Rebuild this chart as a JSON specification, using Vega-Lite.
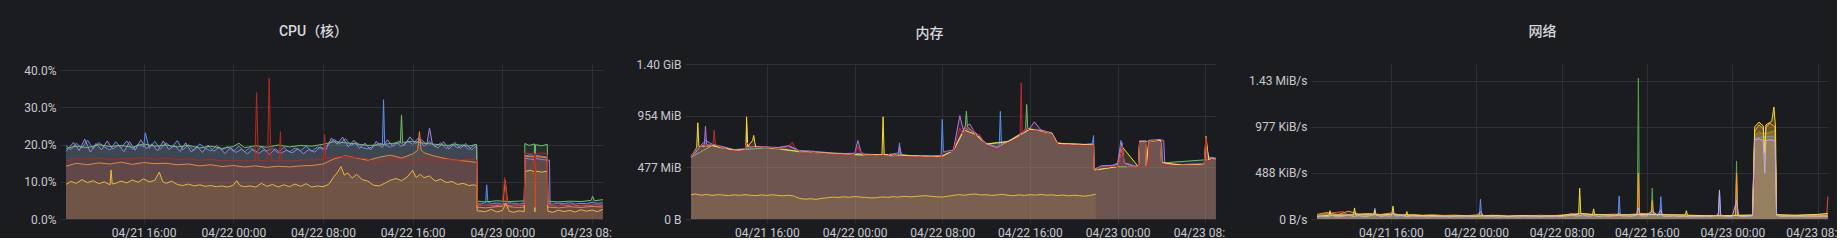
{
"$schema":"https://vega.github.io/schema/vega-lite/v6.json",
"background":"#1b1c20",
"padding":{"left":23,"top":25,"right":0,"bottom":0},
"bounds":"flush",
"spacing":88,
"resolve":{"scale":{"color":"independent"}},
"config":{
 "view":{"stroke":null},
 "axis":{"labelFont":"Roboto","labelFontSize":12,"labelColor":"#c8c9cf","gridColor":"#2f3035","tickColor":"#2f3035","domain":false,"title":null,"labelFlush":false},
 "title":{"font":"Roboto, Noto Sans CJK SC","fontSize":14,"fontWeight":500,"color":"#d8d9dd","anchor":"middle","frame":"group","baseline":"alphabetic","offset":25}
},
"datasets":{
"cpu":[
{"s":"b","h":9.08,"v":19.8},{"s":"b","h":9.5,"v":18.6},{"s":"b","h":10,"v":20.4},{"s":"b","h":10.5,"v":19.1},{"s":"b","h":11,"v":21.2},{"s":"b","h":11.5,"v":18.9},{"s":"b","h":12,"v":20.6},{"s":"b","h":12.5,"v":19.4},{"s":"b","h":13,"v":18.5},{"s":"b","h":13.5,"v":20.8},{"s":"b","h":14,"v":19.2},{"s":"b","h":14.5,"v":21.0},{"s":"b","h":15,"v":18.7},{"s":"b","h":15.5,"v":20.1},{"s":"b","h":16,"v":19.4},{"s":"b","h":16.15,"v":23.2},{"s":"b","h":16.5,"v":19.0},{"s":"b","h":17,"v":20.9},{"s":"b","h":17.5,"v":18.8},{"s":"b","h":18,"v":20.5},{"s":"b","h":18.5,"v":19.3},{"s":"b","h":19,"v":21.1},{"s":"b","h":19.5,"v":18.6},{"s":"b","h":20,"v":19.9},{"s":"b","h":20.5,"v":18.4},{"s":"b","h":21,"v":20.2},{"s":"b","h":21.5,"v":19.0},{"s":"b","h":22,"v":18.3},{"s":"b","h":22.5,"v":19.8},{"s":"b","h":23,"v":18.6},{"s":"b","h":23.5,"v":19.5},{"s":"b","h":24,"v":18.2},{"s":"b","h":24.5,"v":19.6},{"s":"b","h":25,"v":18.1},{"s":"b","h":25.5,"v":19.2},{"s":"b","h":26,"v":17.9},{"s":"b","h":26.5,"v":19.4},{"s":"b","h":27,"v":18.3},{"s":"b","h":27.5,"v":19.0},{"s":"b","h":28,"v":17.8},{"s":"b","h":28.5,"v":19.3},{"s":"b","h":29,"v":18.0},{"s":"b","h":29.5,"v":19.1},{"s":"b","h":30,"v":18.4},{"s":"b","h":30.5,"v":19.6},{"s":"b","h":31,"v":18.2},{"s":"b","h":31.5,"v":19.4},{"s":"b","h":32,"v":18.8},{"s":"b","h":32.5,"v":20.3},{"s":"b","h":33,"v":21.4},{"s":"b","h":33.5,"v":20.2},{"s":"b","h":34,"v":21.6},{"s":"b","h":34.5,"v":19.8},{"s":"b","h":35,"v":20.6},{"s":"b","h":35.5,"v":19.2},{"s":"b","h":36,"v":18.9},{"s":"b","h":36.5,"v":19.6},{"s":"b","h":37,"v":20.4},{"s":"b","h":37.3,"v":20.2},{"s":"b","h":37.4,"v":32.1},{"s":"b","h":37.5,"v":20.0},{"s":"b","h":38,"v":19.3},{"s":"b","h":38.5,"v":20.7},{"s":"b","h":39,"v":19.5},{"s":"b","h":39.5,"v":21.0},{"s":"b","h":40,"v":20.1},{"s":"b","h":40.5,"v":21.8},{"s":"b","h":41,"v":19.6},{"s":"b","h":41.5,"v":20.9},{"s":"b","h":42,"v":19.4},{"s":"b","h":42.5,"v":20.5},{"s":"b","h":43,"v":18.9},{"s":"b","h":43.5,"v":20.2},{"s":"b","h":44,"v":19.1},{"s":"b","h":44.5,"v":20.0},{"s":"b","h":45,"v":18.7},{"s":"b","h":45.5,"v":19.9},{"s":"b","h":45.7,"v":19.3},{"s":"b","h":45.75,"v":4.3},{"s":"b","h":46,"v":4.0},{"s":"b","h":46.5,"v":4.4},{"s":"b","h":46.6,"v":9.2},{"s":"b","h":46.7,"v":4.6},{"s":"b","h":47,"v":4.1},{"s":"b","h":47.5,"v":4.3},{"s":"b","h":48,"v":4.0},{"s":"b","h":48.5,"v":4.4},{"s":"b","h":49,"v":4.2},{"s":"b","h":49.5,"v":4.0},{"s":"b","h":49.95,"v":4.3},{"s":"b","h":50,"v":17.0},{"s":"b","h":50.5,"v":17.3},{"s":"b","h":50.85,"v":16.8},{"s":"b","h":50.9,"v":3.0},{"s":"b","h":50.95,"v":17.1},{"s":"b","h":51.5,"v":16.9},{"s":"b","h":52,"v":16.6},{"s":"b","h":52.05,"v":4.2},{"s":"b","h":52.5,"v":4.0},{"s":"b","h":53,"v":4.3},{"s":"b","h":53.5,"v":4.1},{"s":"b","h":54,"v":4.4},{"s":"b","h":54.5,"v":4.0},{"s":"b","h":55,"v":4.2},{"s":"b","h":55.5,"v":4.1},{"s":"b","h":56,"v":4.5},{"s":"b","h":56.5,"v":4.2},{"s":"b","h":56.96,"v":4.4},
{"s":"p","h":9.08,"v":18.2},{"s":"p","h":9.75,"v":20.6},{"s":"p","h":10.25,"v":18.4},{"s":"p","h":10.75,"v":21.5},{"s":"p","h":11.25,"v":18.0},{"s":"p","h":11.75,"v":20.3},{"s":"p","h":12.25,"v":18.6},{"s":"p","h":12.75,"v":21.0},{"s":"p","h":13.25,"v":18.8},{"s":"p","h":13.75,"v":19.9},{"s":"p","h":14.25,"v":18.1},{"s":"p","h":14.75,"v":20.8},{"s":"p","h":15.25,"v":18.5},{"s":"p","h":15.75,"v":21.3},{"s":"p","h":16.25,"v":18.9},{"s":"p","h":16.75,"v":20.2},{"s":"p","h":17.25,"v":18.3},{"s":"p","h":17.75,"v":21.0},{"s":"p","h":18.25,"v":18.7},{"s":"p","h":18.75,"v":19.8},{"s":"p","h":19.25,"v":18.2},{"s":"p","h":19.75,"v":20.5},{"s":"p","h":20.25,"v":18.0},{"s":"p","h":20.75,"v":19.6},{"s":"p","h":21.25,"v":17.9},{"s":"p","h":21.75,"v":19.9},{"s":"p","h":22.25,"v":18.2},{"s":"p","h":22.75,"v":19.3},{"s":"p","h":23.25,"v":17.6},{"s":"p","h":23.75,"v":19.2},{"s":"p","h":24.25,"v":17.9},{"s":"p","h":24.75,"v":18.8},{"s":"p","h":25.25,"v":17.5},{"s":"p","h":25.75,"v":18.9},{"s":"p","h":26.25,"v":17.6},{"s":"p","h":26.75,"v":18.6},{"s":"p","h":27.25,"v":17.4},{"s":"p","h":27.75,"v":18.9},{"s":"p","h":28.25,"v":17.7},{"s":"p","h":28.75,"v":18.5},{"s":"p","h":29.25,"v":17.8},{"s":"p","h":29.75,"v":18.9},{"s":"p","h":30.25,"v":17.6},{"s":"p","h":30.75,"v":18.7},{"s":"p","h":31.25,"v":18.0},{"s":"p","h":31.75,"v":19.4},{"s":"p","h":32.25,"v":18.6},{"s":"p","h":32.75,"v":21.8},{"s":"p","h":33.25,"v":20.1},{"s":"p","h":33.75,"v":22.0},{"s":"p","h":34.25,"v":19.4},{"s":"p","h":34.75,"v":21.2},{"s":"p","h":35.25,"v":19.0},{"s":"p","h":35.75,"v":20.4},{"s":"p","h":36.25,"v":18.6},{"s":"p","h":36.75,"v":20.9},{"s":"p","h":37.25,"v":19.2},{"s":"p","h":37.75,"v":21.3},{"s":"p","h":38.25,"v":19.5},{"s":"p","h":38.75,"v":21.0},{"s":"p","h":39.25,"v":19.8},{"s":"p","h":39.75,"v":22.1},{"s":"p","h":40.25,"v":20.3},{"s":"p","h":40.75,"v":21.4},{"s":"p","h":41.25,"v":20.0},{"s":"p","h":41.5,"v":24.5},{"s":"p","h":41.75,"v":20.2},{"s":"p","h":42.25,"v":19.1},{"s":"p","h":42.75,"v":20.8},{"s":"p","h":43.25,"v":18.8},{"s":"p","h":43.75,"v":20.6},{"s":"p","h":44.25,"v":19.0},{"s":"p","h":44.75,"v":20.3},{"s":"p","h":45.25,"v":18.6},{"s":"p","h":45.7,"v":19.7},{"s":"p","h":45.75,"v":3.9},{"s":"p","h":46.25,"v":3.6},{"s":"p","h":46.75,"v":3.8},{"s":"p","h":47.25,"v":3.5},{"s":"p","h":47.75,"v":3.7},{"s":"p","h":48.25,"v":3.9},{"s":"p","h":48.75,"v":3.6},{"s":"p","h":49.25,"v":3.8},{"s":"p","h":49.75,"v":3.6},{"s":"p","h":49.95,"v":3.7},{"s":"p","h":50,"v":16.4},{"s":"p","h":50.5,"v":16.1},{"s":"p","h":50.85,"v":16.0},{"s":"p","h":50.9,"v":2.8},{"s":"p","h":50.95,"v":16.3},{"s":"p","h":51.5,"v":16.0},{"s":"p","h":52.2,"v":15.8},{"s":"p","h":52.25,"v":3.7},{"s":"p","h":52.75,"v":3.5},{"s":"p","h":53.25,"v":3.8},{"s":"p","h":53.75,"v":3.6},{"s":"p","h":54.25,"v":3.9},{"s":"p","h":54.75,"v":3.5},{"s":"p","h":55.25,"v":3.7},{"s":"p","h":55.75,"v":3.6},{"s":"p","h":56.25,"v":3.9},{"s":"p","h":56.96,"v":3.7},
{"s":"g","h":9.08,"v":19.0},{"s":"g","h":10,"v":19.6},{"s":"g","h":11,"v":19.2},{"s":"g","h":12,"v":20.0},{"s":"g","h":13,"v":19.5},{"s":"g","h":14,"v":19.8},{"s":"g","h":15,"v":19.3},{"s":"g","h":16,"v":20.2},{"s":"g","h":17,"v":19.6},{"s":"g","h":18,"v":19.9},{"s":"g","h":19,"v":19.4},{"s":"g","h":20,"v":19.8},{"s":"g","h":21,"v":19.1},{"s":"g","h":22,"v":19.6},{"s":"g","h":23,"v":19.0},{"s":"g","h":24,"v":19.5},{"s":"g","h":24.5,"v":20.4},{"s":"g","h":25,"v":19.2},{"s":"g","h":26,"v":19.7},{"s":"g","h":27,"v":19.3},{"s":"g","h":28,"v":19.9},{"s":"g","h":29,"v":19.4},{"s":"g","h":30,"v":19.8},{"s":"g","h":31,"v":19.6},{"s":"g","h":32,"v":20.1},{"s":"g","h":33,"v":20.8},{"s":"g","h":34,"v":20.5},{"s":"g","h":35,"v":20.2},{"s":"g","h":36,"v":19.8},{"s":"g","h":37,"v":19.9},{"s":"g","h":38,"v":20.3},{"s":"g","h":38.9,"v":20.5},{"s":"g","h":39,"v":28.0},{"s":"g","h":39.1,"v":20.6},{"s":"g","h":40,"v":20.9},{"s":"g","h":41,"v":20.4},{"s":"g","h":42,"v":20.1},{"s":"g","h":43,"v":19.8},{"s":"g","h":44,"v":20.0},{"s":"g","h":45,"v":19.6},{"s":"g","h":45.7,"v":20.1},{"s":"g","h":45.75,"v":4.8},{"s":"g","h":46.5,"v":4.6},{"s":"g","h":47.5,"v":4.9},{"s":"g","h":48.5,"v":4.7},{"s":"g","h":49.5,"v":4.8},{"s":"g","h":49.95,"v":4.9},{"s":"g","h":50,"v":20.3},{"s":"g","h":50.4,"v":19.8},{"s":"g","h":50.85,"v":20.2},{"s":"g","h":50.9,"v":3.2},{"s":"g","h":50.95,"v":20.0},{"s":"g","h":51.5,"v":19.7},{"s":"g","h":52,"v":20.1},{"s":"g","h":52.05,"v":4.8},{"s":"g","h":53,"v":4.6},{"s":"g","h":54,"v":4.8},{"s":"g","h":55,"v":4.7},{"s":"g","h":55.9,"v":5.0},{"s":"g","h":56.05,"v":6.1},{"s":"g","h":56.2,"v":4.9},{"s":"g","h":56.96,"v":5.2},
{"s":"o","h":9.08,"v":14.2},{"s":"o","h":10,"v":15.0},{"s":"o","h":11,"v":14.6},{"s":"o","h":12,"v":15.1},{"s":"o","h":13,"v":14.8},{"s":"o","h":14,"v":15.3},{"s":"o","h":15,"v":14.7},{"s":"o","h":16,"v":15.2},{"s":"o","h":17,"v":14.9},{"s":"o","h":18,"v":15.0},{"s":"o","h":19,"v":14.6},{"s":"o","h":20,"v":14.8},{"s":"o","h":21,"v":14.3},{"s":"o","h":22,"v":14.6},{"s":"o","h":23,"v":14.1},{"s":"o","h":24,"v":14.4},{"s":"o","h":25,"v":14.0},{"s":"o","h":26,"v":14.3},{"s":"o","h":27,"v":13.9},{"s":"o","h":28,"v":14.2},{"s":"o","h":29,"v":14.0},{"s":"o","h":30,"v":14.3},{"s":"o","h":31,"v":14.4},{"s":"o","h":32,"v":14.8},{"s":"o","h":33,"v":16.2},{"s":"o","h":34,"v":17.0},{"s":"o","h":35,"v":16.4},{"s":"o","h":36,"v":15.8},{"s":"o","h":37,"v":16.6},{"s":"o","h":38,"v":17.2},{"s":"o","h":39,"v":16.4},{"s":"o","h":40,"v":17.5},{"s":"o","h":40.45,"v":18.5},{"s":"o","h":40.6,"v":23.5},{"s":"o","h":40.75,"v":18.6},{"s":"o","h":41,"v":17.8},{"s":"o","h":42,"v":16.9},{"s":"o","h":43,"v":16.2},{"s":"o","h":44,"v":15.8},{"s":"o","h":45,"v":15.5},{"s":"o","h":45.7,"v":15.2},{"s":"o","h":45.75,"v":3.2},{"s":"o","h":46.5,"v":3.0},{"s":"o","h":47.5,"v":3.3},{"s":"o","h":48,"v":3.4},{"s":"o","h":48.25,"v":10.5},{"s":"o","h":48.5,"v":3.3},{"s":"o","h":49.5,"v":3.1},{"s":"o","h":49.95,"v":3.2},{"s":"o","h":50,"v":16.9},{"s":"o","h":50.85,"v":16.7},{"s":"o","h":50.9,"v":2.9},{"s":"o","h":50.95,"v":16.8},{"s":"o","h":52,"v":16.5},{"s":"o","h":52.05,"v":3.2},{"s":"o","h":53,"v":3.0},{"s":"o","h":54,"v":3.3},{"s":"o","h":55,"v":3.1},{"s":"o","h":56,"v":3.4},{"s":"o","h":56.96,"v":3.2},
{"s":"y","h":9.08,"v":9.3},{"s":"y","h":9.5,"v":10.1},{"s":"y","h":10,"v":9.6},{"s":"y","h":10.5,"v":10.6},{"s":"y","h":11,"v":9.8},{"s":"y","h":11.5,"v":10.3},{"s":"y","h":12,"v":9.5},{"s":"y","h":12.5,"v":10.0},{"s":"y","h":13,"v":9.2},{"s":"y","h":13.1,"v":13.2},{"s":"y","h":13.2,"v":9.4},{"s":"y","h":13.5,"v":9.6},{"s":"y","h":14,"v":10.2},{"s":"y","h":14.5,"v":9.7},{"s":"y","h":15,"v":10.5},{"s":"y","h":15.5,"v":9.9},{"s":"y","h":16,"v":10.8},{"s":"y","h":16.5,"v":10.0},{"s":"y","h":17,"v":10.4},{"s":"y","h":17.4,"v":12.6},{"s":"y","h":17.7,"v":10.1},{"s":"y","h":18,"v":9.6},{"s":"y","h":18.5,"v":10.2},{"s":"y","h":19,"v":9.3},{"s":"y","h":19.5,"v":9.0},{"s":"y","h":20,"v":9.4},{"s":"y","h":20.5,"v":8.9},{"s":"y","h":21,"v":9.2},{"s":"y","h":21.5,"v":8.8},{"s":"y","h":22,"v":9.0},{"s":"y","h":22.5,"v":8.7},{"s":"y","h":23,"v":8.9},{"s":"y","h":23.5,"v":8.6},{"s":"y","h":24,"v":9.1},{"s":"y","h":24.3,"v":10.3},{"s":"y","h":24.6,"v":9.0},{"s":"y","h":25,"v":8.7},{"s":"y","h":25.5,"v":8.9},{"s":"y","h":26,"v":8.6},{"s":"y","h":26.5,"v":9.6},{"s":"y","h":27,"v":8.8},{"s":"y","h":27.5,"v":9.3},{"s":"y","h":28,"v":8.6},{"s":"y","h":28.5,"v":9.2},{"s":"y","h":29,"v":8.7},{"s":"y","h":29.5,"v":9.4},{"s":"y","h":30,"v":8.8},{"s":"y","h":30.5,"v":9.5},{"s":"y","h":31,"v":8.6},{"s":"y","h":31.5,"v":8.9},{"s":"y","h":32,"v":8.7},{"s":"y","h":32.5,"v":9.3},{"s":"y","h":33,"v":11.5},{"s":"y","h":33.3,"v":12.6},{"s":"y","h":33.6,"v":14.1},{"s":"y","h":33.9,"v":11.8},{"s":"y","h":34.2,"v":12.4},{"s":"y","h":34.6,"v":11.0},{"s":"y","h":35,"v":12.0},{"s":"y","h":35.5,"v":10.6},{"s":"y","h":36,"v":10.2},{"s":"y","h":36.5,"v":9.1},{"s":"y","h":37,"v":8.9},{"s":"y","h":37.5,"v":9.6},{"s":"y","h":38,"v":10.4},{"s":"y","h":38.5,"v":10.9},{"s":"y","h":39,"v":10.3},{"s":"y","h":39.5,"v":11.3},{"s":"y","h":40,"v":13.1},{"s":"y","h":40.3,"v":11.2},{"s":"y","h":40.7,"v":12.0},{"s":"y","h":41,"v":11.1},{"s":"y","h":41.5,"v":11.6},{"s":"y","h":42,"v":10.2},{"s":"y","h":42.5,"v":10.7},{"s":"y","h":43,"v":9.8},{"s":"y","h":43.5,"v":10.1},{"s":"y","h":44,"v":9.3},{"s":"y","h":44.5,"v":9.6},{"s":"y","h":45,"v":9.0},{"s":"y","h":45.5,"v":9.2},{"s":"y","h":45.7,"v":8.8},{"s":"y","h":45.75,"v":2.2},{"s":"y","h":46.5,"v":2.0},{"s":"y","h":47,"v":2.6},{"s":"y","h":47.5,"v":1.9},{"s":"y","h":48,"v":2.3},{"s":"y","h":48.3,"v":4.2},{"s":"y","h":48.6,"v":2.1},{"s":"y","h":49,"v":1.8},{"s":"y","h":49.5,"v":2.2},{"s":"y","h":49.95,"v":2.0},{"s":"y","h":50,"v":12.8},{"s":"y","h":50.5,"v":13.1},{"s":"y","h":50.85,"v":12.7},{"s":"y","h":50.9,"v":1.9},{"s":"y","h":50.95,"v":12.9},{"s":"y","h":51.5,"v":12.6},{"s":"y","h":52,"v":12.9},{"s":"y","h":52.05,"v":2.1},{"s":"y","h":52.5,"v":1.8},{"s":"y","h":53,"v":2.4},{"s":"y","h":53.5,"v":2.0},{"s":"y","h":54,"v":2.3},{"s":"y","h":54.5,"v":1.9},{"s":"y","h":55,"v":2.5},{"s":"y","h":55.5,"v":2.1},{"s":"y","h":56,"v":2.4},{"s":"y","h":56.5,"v":2.0},{"s":"y","h":56.96,"v":2.6},
{"s":"r","h":9.08,"v":15.6},{"s":"r","h":10,"v":16.3},{"s":"r","h":11,"v":16.1},{"s":"r","h":12,"v":16.4},{"s":"r","h":13,"v":16.0},{"s":"r","h":14,"v":16.3},{"s":"r","h":15,"v":16.2},{"s":"r","h":16,"v":16.5},{"s":"r","h":17,"v":16.1},{"s":"r","h":18,"v":16.4},{"s":"r","h":19,"v":16.0},{"s":"r","h":20,"v":16.2},{"s":"r","h":21,"v":15.8},{"s":"r","h":22,"v":16.0},{"s":"r","h":23,"v":15.7},{"s":"r","h":24,"v":15.8},{"s":"r","h":25,"v":15.6},{"s":"r","h":25.93,"v":15.7},{"s":"r","h":26.08,"v":34.0},{"s":"r","h":26.23,"v":15.8},{"s":"r","h":27.05,"v":15.6},{"s":"r","h":27.2,"v":37.9},{"s":"r","h":27.35,"v":15.7},{"s":"r","h":28.1,"v":15.6},{"s":"r","h":28.2,"v":23.5},{"s":"r","h":28.3,"v":15.8},{"s":"r","h":29,"v":15.6},{"s":"r","h":30,"v":15.8},{"s":"r","h":31,"v":15.9},{"s":"r","h":32.05,"v":16.0},{"s":"r","h":32.15,"v":22.7},{"s":"r","h":32.25,"v":16.2},{"s":"r","h":33,"v":16.7},{"s":"r","h":34,"v":16.8},{"s":"r","h":35,"v":16.5},{"s":"r","h":36,"v":16.2},{"s":"r","h":36.7,"v":15.0},{"s":"r","h":37.5,"v":15.9},{"s":"r","h":38,"v":16.2},{"s":"r","h":39,"v":16.0},{"s":"r","h":40,"v":15.8},{"s":"r","h":41,"v":16.1},{"s":"r","h":42,"v":15.9},{"s":"r","h":43,"v":16.0},{"s":"r","h":44,"v":15.8},{"s":"r","h":45,"v":16.1},{"s":"r","h":45.7,"v":15.9},{"s":"r","h":45.75,"v":3.8},{"s":"r","h":46.5,"v":3.6},{"s":"r","h":47.5,"v":3.9},{"s":"r","h":48,"v":3.8},{"s":"r","h":48.2,"v":11.2},{"s":"r","h":48.45,"v":3.9},{"s":"r","h":49,"v":3.7},{"s":"r","h":49.95,"v":3.8},{"s":"r","h":50,"v":17.8},{"s":"r","h":50.5,"v":17.6},{"s":"r","h":50.85,"v":17.7},{"s":"r","h":50.9,"v":3.1},{"s":"r","h":50.95,"v":17.5},{"s":"r","h":51.5,"v":17.8},{"s":"r","h":52,"v":17.4},{"s":"r","h":52.05,"v":3.8},{"s":"r","h":53,"v":3.6},{"s":"r","h":54,"v":3.9},{"s":"r","h":55,"v":3.7},{"s":"r","h":56,"v":3.8},{"s":"r","h":56.96,"v":3.9}
],
"mem":[
{"s":"l","h":9.08,"v":235},{"s":"l","h":9.5,"v":242},{"s":"l","h":10,"v":230},{"s":"l","h":10.5,"v":238},{"s":"l","h":11,"v":228},{"s":"l","h":11.5,"v":236},{"s":"l","h":12,"v":232},{"s":"l","h":12.5,"v":226},{"s":"l","h":13,"v":234},{"s":"l","h":13.5,"v":229},{"s":"l","h":14,"v":236},{"s":"l","h":14.5,"v":230},{"s":"l","h":15,"v":226},{"s":"l","h":15.5,"v":233},{"s":"l","h":16,"v":228},{"s":"l","h":16.5,"v":235},{"s":"l","h":17,"v":229},{"s":"l","h":17.5,"v":224},{"s":"l","h":18,"v":231},{"s":"l","h":18.5,"v":220},{"s":"l","h":19,"v":198},{"s":"l","h":19.5,"v":192},{"s":"l","h":20,"v":196},{"s":"l","h":20.5,"v":190},{"s":"l","h":21,"v":200},{"s":"l","h":21.5,"v":205},{"s":"l","h":22,"v":212},{"s":"l","h":22.5,"v":208},{"s":"l","h":23,"v":215},{"s":"l","h":23.5,"v":210},{"s":"l","h":24,"v":218},{"s":"l","h":24.5,"v":212},{"s":"l","h":25,"v":209},{"s":"l","h":25.5,"v":203},{"s":"l","h":26,"v":206},{"s":"l","h":26.5,"v":214},{"s":"l","h":27,"v":210},{"s":"l","h":27.5,"v":216},{"s":"l","h":28,"v":212},{"s":"l","h":28.5,"v":220},{"s":"l","h":29,"v":214},{"s":"l","h":29.5,"v":218},{"s":"l","h":30,"v":222},{"s":"l","h":30.5,"v":226},{"s":"l","h":31,"v":219},{"s":"l","h":31.5,"v":215},{"s":"l","h":32,"v":212},{"s":"l","h":32.5,"v":220},{"s":"l","h":33,"v":228},{"s":"l","h":33.5,"v":236},{"s":"l","h":34,"v":230},{"s":"l","h":34.5,"v":238},{"s":"l","h":35,"v":242},{"s":"l","h":35.5,"v":232},{"s":"l","h":36,"v":236},{"s":"l","h":36.5,"v":228},{"s":"l","h":37,"v":233},{"s":"l","h":37.5,"v":238},{"s":"l","h":38,"v":230},{"s":"l","h":38.5,"v":226},{"s":"l","h":39,"v":234},{"s":"l","h":39.5,"v":228},{"s":"l","h":40,"v":236},{"s":"l","h":40.5,"v":231},{"s":"l","h":41,"v":238},{"s":"l","h":41.5,"v":230},{"s":"l","h":42,"v":234},{"s":"l","h":42.5,"v":227},{"s":"l","h":43,"v":232},{"s":"l","h":43.5,"v":224},{"s":"l","h":44,"v":230},{"s":"l","h":44.5,"v":226},{"s":"l","h":45,"v":221},{"s":"l","h":45.5,"v":229},{"s":"l","h":46,"v":240},
{"s":"g","h":9.08,"v":598},{"s":"g","h":11,"v":712},{"s":"g","h":13,"v":662},{"s":"g","h":16,"v":690},{"s":"g","h":19,"v":650},{"s":"g","h":22,"v":632},{"s":"g","h":25,"v":618},{"s":"g","h":28,"v":610},{"s":"g","h":31.9,"v":602},{"s":"g","h":33,"v":658},{"s":"g","h":34,"v":870},{"s":"g","h":34.1,"v":900},{"s":"g","h":34.2,"v":1043},{"s":"g","h":34.3,"v":890},{"s":"g","h":35,"v":825},{"s":"g","h":36,"v":726},{"s":"g","h":38,"v":752},{"s":"g","h":39.5,"v":850},{"s":"g","h":39.6,"v":880},{"s":"g","h":39.7,"v":1108},{"s":"g","h":39.8,"v":875},{"s":"g","h":41,"v":855},{"s":"g","h":42,"v":826},{"s":"g","h":42.5,"v":734},{"s":"g","h":45.8,"v":718},{"s":"g","h":45.85,"v":474},{"s":"g","h":48,"v":506},{"s":"g","h":49.9,"v":504},{"s":"g","h":50,"v":748},{"s":"g","h":51.9,"v":758},{"s":"g","h":52,"v":542},{"s":"g","h":56.96,"v":580},
{"s":"b","h":9.08,"v":610},{"s":"b","h":10,"v":715},{"s":"b","h":10.4,"v":760},{"s":"b","h":11,"v":725},{"s":"b","h":12,"v":700},{"s":"b","h":13,"v":672},{"s":"b","h":14,"v":680},{"s":"b","h":15,"v":702},{"s":"b","h":16,"v":698},{"s":"b","h":17,"v":692},{"s":"b","h":18,"v":710},{"s":"b","h":19,"v":662},{"s":"b","h":20,"v":658},{"s":"b","h":21,"v":648},{"s":"b","h":22,"v":640},{"s":"b","h":23,"v":634},{"s":"b","h":24,"v":636},{"s":"b","h":25,"v":628},{"s":"b","h":26,"v":624},{"s":"b","h":27,"v":622},{"s":"b","h":28,"v":640},{"s":"b","h":28.1,"v":737},{"s":"b","h":28.2,"v":625},{"s":"b","h":29,"v":615},{"s":"b","h":30,"v":614},{"s":"b","h":31,"v":612},{"s":"b","h":31.9,"v":615},{"s":"b","h":32,"v":963},{"s":"b","h":32.1,"v":650},{"s":"b","h":33,"v":668},{"s":"b","h":34,"v":880},{"s":"b","h":35,"v":840},{"s":"b","h":36,"v":735},{"s":"b","h":37,"v":695},{"s":"b","h":37.2,"v":720},{"s":"b","h":37.3,"v":1043},{"s":"b","h":37.4,"v":720},{"s":"b","h":38,"v":755},{"s":"b","h":39,"v":805},{"s":"b","h":40,"v":866},{"s":"b","h":41,"v":858},{"s":"b","h":42,"v":835},{"s":"b","h":42.5,"v":740},{"s":"b","h":43,"v":728},{"s":"b","h":44,"v":725},{"s":"b","h":45,"v":722},{"s":"b","h":45.7,"v":730},{"s":"b","h":45.8,"v":808},{"s":"b","h":45.85,"v":480},{"s":"b","h":46.5,"v":515},{"s":"b","h":47.5,"v":520},{"s":"b","h":48,"v":540},{"s":"b","h":48.3,"v":760},{"s":"b","h":48.6,"v":545},{"s":"b","h":49.5,"v":515},{"s":"b","h":49.9,"v":512},{"s":"b","h":50,"v":755},{"s":"b","h":50.55,"v":758},{"s":"b","h":50.6,"v":520},{"s":"b","h":50.85,"v":762},{"s":"b","h":51.9,"v":770},{"s":"b","h":52,"v":737},{"s":"b","h":52.1,"v":550},{"s":"b","h":53,"v":530},{"s":"b","h":54,"v":528},{"s":"b","h":55,"v":532},{"s":"b","h":55.9,"v":535},{"s":"b","h":56.1,"v":700},{"s":"b","h":56.3,"v":600},{"s":"b","h":56.96,"v":590},
{"s":"p","h":9.08,"v":590},{"s":"p","h":10,"v":705},{"s":"p","h":10.3,"v":720},{"s":"p","h":10.4,"v":898},{"s":"p","h":10.5,"v":720},{"s":"p","h":11,"v":718},{"s":"p","h":12,"v":695},{"s":"p","h":13,"v":668},{"s":"p","h":14,"v":672},{"s":"p","h":14.1,"v":700},{"s":"p","h":14.15,"v":920},{"s":"p","h":14.25,"v":705},{"s":"p","h":15,"v":698},{"s":"p","h":16,"v":694},{"s":"p","h":17,"v":688},{"s":"p","h":18,"v":705},{"s":"p","h":19,"v":656},{"s":"p","h":20,"v":652},{"s":"p","h":21,"v":644},{"s":"p","h":22,"v":636},{"s":"p","h":23,"v":630},{"s":"p","h":24,"v":632},{"s":"p","h":24.3,"v":760},{"s":"p","h":24.6,"v":645},{"s":"p","h":25,"v":622},{"s":"p","h":26,"v":620},{"s":"p","h":27,"v":616},{"s":"p","h":28,"v":614},{"s":"p","h":28.1,"v":700},{"s":"p","h":28.3,"v":620},{"s":"p","h":29,"v":610},{"s":"p","h":30,"v":608},{"s":"p","h":31,"v":606},{"s":"p","h":32,"v":612},{"s":"p","h":33,"v":660},{"s":"p","h":33.6,"v":1000},{"s":"p","h":33.9,"v":870},{"s":"p","h":34.5,"v":920},{"s":"p","h":35,"v":830},{"s":"p","h":36,"v":728},{"s":"p","h":37,"v":690},{"s":"p","h":38,"v":750},{"s":"p","h":39,"v":800},{"s":"p","h":39.5,"v":860},{"s":"p","h":40,"v":880},{"s":"p","h":40.4,"v":940},{"s":"p","h":41,"v":862},{"s":"p","h":42,"v":830},{"s":"p","h":42.5,"v":735},{"s":"p","h":43,"v":724},{"s":"p","h":44,"v":720},{"s":"p","h":45,"v":718},{"s":"p","h":45.8,"v":722},{"s":"p","h":45.85,"v":475},{"s":"p","h":46.5,"v":512},{"s":"p","h":47.5,"v":515},{"s":"p","h":48,"v":530},{"s":"p","h":48.4,"v":740},{"s":"p","h":48.6,"v":540},{"s":"p","h":49.5,"v":510},{"s":"p","h":49.9,"v":508},{"s":"p","h":50,"v":750},{"s":"p","h":50.55,"v":752},{"s":"p","h":50.6,"v":515},{"s":"p","h":50.85,"v":755},{"s":"p","h":52,"v":765},{"s":"p","h":52.2,"v":760},{"s":"p","h":52.3,"v":545},{"s":"p","h":53,"v":525},{"s":"p","h":54,"v":522},{"s":"p","h":55,"v":525},{"s":"p","h":55.9,"v":528},{"s":"p","h":56.05,"v":760},{"s":"p","h":56.3,"v":585},{"s":"p","h":56.96,"v":585},
{"s":"y","h":9.08,"v":605},{"s":"y","h":9.6,"v":690},{"s":"y","h":9.7,"v":931},{"s":"y","h":9.8,"v":700},{"s":"y","h":11,"v":710},{"s":"y","h":13,"v":664},{"s":"y","h":14,"v":670},{"s":"y","h":14.1,"v":700},{"s":"y","h":14.15,"v":989},{"s":"y","h":14.25,"v":700},{"s":"y","h":14.7,"v":760},{"s":"y","h":14.8,"v":808},{"s":"y","h":14.9,"v":740},{"s":"y","h":15,"v":695},{"s":"y","h":17,"v":684},{"s":"y","h":19,"v":652},{"s":"y","h":21,"v":640},{"s":"y","h":23,"v":627},{"s":"y","h":25,"v":620},{"s":"y","h":26.5,"v":622},{"s":"y","h":26.6,"v":989},{"s":"y","h":26.7,"v":625},{"s":"y","h":28,"v":618},{"s":"y","h":30,"v":608},{"s":"y","h":31.9,"v":604},{"s":"y","h":33,"v":662},{"s":"y","h":34,"v":860},{"s":"y","h":35,"v":820},{"s":"y","h":36,"v":725},{"s":"y","h":38,"v":748},{"s":"y","h":40,"v":870},{"s":"y","h":42,"v":828},{"s":"y","h":42.5,"v":732},{"s":"y","h":45.8,"v":716},{"s":"y","h":45.85,"v":472},{"s":"y","h":48,"v":508},{"s":"y","h":48.4,"v":700},{"s":"y","h":49.9,"v":505},{"s":"y","h":50,"v":745},{"s":"y","h":50.55,"v":748},{"s":"y","h":50.6,"v":512},{"s":"y","h":50.85,"v":752},{"s":"y","h":51.9,"v":762},{"s":"y","h":52,"v":545},{"s":"y","h":54,"v":520},{"s":"y","h":55.9,"v":528},{"s":"y","h":56.05,"v":800},{"s":"y","h":56.3,"v":575},{"s":"y","h":56.96,"v":582},
{"s":"r","h":9.08,"v":600},{"s":"r","h":9.3,"v":640},{"s":"r","h":9.6,"v":680},{"s":"r","h":10,"v":700},{"s":"r","h":10.3,"v":690},{"s":"r","h":10.6,"v":720},{"s":"r","h":11,"v":715},{"s":"r","h":11.1,"v":730},{"s":"r","h":11.2,"v":860},{"s":"r","h":11.3,"v":720},{"s":"r","h":11.7,"v":700},{"s":"r","h":12,"v":690},{"s":"r","h":12.5,"v":665},{"s":"r","h":13,"v":660},{"s":"r","h":13.5,"v":655},{"s":"r","h":14,"v":668},{"s":"r","h":14.2,"v":740},{"s":"r","h":14.5,"v":700},{"s":"r","h":15,"v":690},{"s":"r","h":15.5,"v":695},{"s":"r","h":16,"v":688},{"s":"r","h":16.5,"v":692},{"s":"r","h":17,"v":680},{"s":"r","h":17.5,"v":688},{"s":"r","h":18,"v":700},{"s":"r","h":18.3,"v":745},{"s":"r","h":18.6,"v":690},{"s":"r","h":19,"v":650},{"s":"r","h":19.5,"v":645},{"s":"r","h":20,"v":648},{"s":"r","h":20.5,"v":640},{"s":"r","h":21,"v":636},{"s":"r","h":21.5,"v":630},{"s":"r","h":22,"v":628},{"s":"r","h":22.5,"v":625},{"s":"r","h":23,"v":622},{"s":"r","h":23.5,"v":620},{"s":"r","h":24,"v":625},{"s":"r","h":24.3,"v":700},{"s":"r","h":24.6,"v":640},{"s":"r","h":25,"v":615},{"s":"r","h":25.5,"v":618},{"s":"r","h":26,"v":612},{"s":"r","h":26.5,"v":615},{"s":"r","h":27,"v":610},{"s":"r","h":27.3,"v":635},{"s":"r","h":27.6,"v":612},{"s":"r","h":28,"v":608},{"s":"r","h":28.5,"v":605},{"s":"r","h":29,"v":603},{"s":"r","h":29.5,"v":600},{"s":"r","h":30,"v":602},{"s":"r","h":30.5,"v":598},{"s":"r","h":31,"v":600},{"s":"r","h":31.5,"v":597},{"s":"r","h":31.9,"v":600},{"s":"r","h":32.05,"v":640},{"s":"r","h":32.5,"v":650},{"s":"r","h":33,"v":655},{"s":"r","h":33.3,"v":760},{"s":"r","h":33.6,"v":880},{"s":"r","h":33.9,"v":820},{"s":"r","h":34.2,"v":900},{"s":"r","h":34.5,"v":850},{"s":"r","h":34.8,"v":870},{"s":"r","h":35.1,"v":800},{"s":"r","h":35.4,"v":820},{"s":"r","h":35.7,"v":760},{"s":"r","h":36,"v":720},{"s":"r","h":36.5,"v":690},{"s":"r","h":37,"v":680},{"s":"r","h":37.5,"v":700},{"s":"r","h":38,"v":740},{"s":"r","h":38.5,"v":760},{"s":"r","h":39,"v":790},{"s":"r","h":39.1,"v":800},{"s":"r","h":39.2,"v":1318},{"s":"r","h":39.3,"v":830},{"s":"r","h":39.7,"v":880},{"s":"r","h":40,"v":850},{"s":"r","h":40.5,"v":860},{"s":"r","h":41,"v":840},{"s":"r","h":41.5,"v":845},{"s":"r","h":42,"v":820},{"s":"r","h":42.3,"v":760},{"s":"r","h":42.6,"v":720},{"s":"r","h":43,"v":715},{"s":"r","h":43.5,"v":718},{"s":"r","h":44,"v":712},{"s":"r","h":44.5,"v":715},{"s":"r","h":45,"v":710},{"s":"r","h":45.5,"v":712},{"s":"r","h":45.8,"v":715},{"s":"r","h":45.85,"v":470},{"s":"r","h":46,"v":460},{"s":"r","h":46.3,"v":500},{"s":"r","h":46.7,"v":505},{"s":"r","h":47,"v":498},{"s":"r","h":47.5,"v":510},{"s":"r","h":48,"v":505},{"s":"r","h":48.2,"v":600},{"s":"r","h":48.4,"v":710},{"s":"r","h":48.6,"v":530},{"s":"r","h":49,"v":500},{"s":"r","h":49.5,"v":505},{"s":"r","h":49.9,"v":502},{"s":"r","h":50,"v":740},{"s":"r","h":50.4,"v":745},{"s":"r","h":50.55,"v":745},{"s":"r","h":50.6,"v":510},{"s":"r","h":50.8,"v":520},{"s":"r","h":50.85,"v":750},{"s":"r","h":51.4,"v":760},{"s":"r","h":51.9,"v":745},{"s":"r","h":52,"v":540},{"s":"r","h":52.5,"v":520},{"s":"r","h":53,"v":518},{"s":"r","h":53.5,"v":515},{"s":"r","h":54,"v":520},{"s":"r","h":54.5,"v":516},{"s":"r","h":55,"v":518},{"s":"r","h":55.5,"v":520},{"s":"r","h":55.9,"v":525},{"s":"r","h":56.05,"v":790},{"s":"r","h":56.2,"v":560},{"s":"r","h":56.5,"v":575},{"s":"r","h":56.96,"v":580}
],
"net":[
{"s":"r","h":9.08,"v":35},{"s":"r","h":10,"v":60},{"s":"r","h":11.5,"v":80},{"s":"r","h":12,"v":40},{"s":"r","h":14,"v":55},{"s":"r","h":16,"v":45},{"s":"r","h":18,"v":40},{"s":"r","h":20,"v":35},{"s":"r","h":22,"v":30},{"s":"r","h":24,"v":35},{"s":"r","h":26,"v":30},{"s":"r","h":28,"v":32},{"s":"r","h":30,"v":30},{"s":"r","h":32,"v":35},{"s":"r","h":34,"v":45},{"s":"r","h":36,"v":40},{"s":"r","h":38,"v":50},{"s":"r","h":39.1,"v":45},{"s":"r","h":39.2,"v":480},{"s":"r","h":39.3,"v":45},{"s":"r","h":40,"v":55},{"s":"r","h":42,"v":40},{"s":"r","h":44,"v":35},{"s":"r","h":46,"v":30},{"s":"r","h":48.3,"v":35},{"s":"r","h":48.4,"v":460},{"s":"r","h":48.5,"v":40},{"s":"r","h":50,"v":38},{"s":"r","h":50.1,"v":920},{"s":"r","h":52,"v":940},{"s":"r","h":52.15,"v":40},{"s":"r","h":54,"v":35},{"s":"r","h":56,"v":38},{"s":"r","h":56.85,"v":40},{"s":"r","h":56.96,"v":242},
{"s":"b","h":9.08,"v":25},{"s":"b","h":11,"v":40},{"s":"b","h":13,"v":30},{"s":"b","h":14.4,"v":40},{"s":"b","h":14.5,"v":120},{"s":"b","h":14.6,"v":35},{"s":"b","h":17,"v":30},{"s":"b","h":19,"v":28},{"s":"b","h":21,"v":25},{"s":"b","h":23,"v":28},{"s":"b","h":24.3,"v":35},{"s":"b","h":24.4,"v":214},{"s":"b","h":24.5,"v":40},{"s":"b","h":26,"v":25},{"s":"b","h":28,"v":27},{"s":"b","h":30,"v":25},{"s":"b","h":32,"v":30},{"s":"b","h":33,"v":60},{"s":"b","h":33.2,"v":30},{"s":"b","h":35,"v":35},{"s":"b","h":37.3,"v":40},{"s":"b","h":37.4,"v":250},{"s":"b","h":37.5,"v":45},{"s":"b","h":39,"v":35},{"s":"b","h":41.2,"v":40},{"s":"b","h":41.3,"v":242},{"s":"b","h":41.4,"v":40},{"s":"b","h":43,"v":30},{"s":"b","h":45,"v":28},{"s":"b","h":46.7,"v":35},{"s":"b","h":46.8,"v":300},{"s":"b","h":46.9,"v":35},{"s":"b","h":49.9,"v":30},{"s":"b","h":50.1,"v":880},{"s":"b","h":52,"v":900},{"s":"b","h":52.15,"v":35},{"s":"b","h":54,"v":30},{"s":"b","h":56.96,"v":35},
{"s":"g","h":9.08,"v":40},{"s":"g","h":10.5,"v":55},{"s":"g","h":12,"v":45},{"s":"g","h":13.5,"v":50},{"s":"g","h":15,"v":42},{"s":"g","h":16.5,"v":48},{"s":"g","h":18,"v":38},{"s":"g","h":19.5,"v":35},{"s":"g","h":21,"v":32},{"s":"g","h":22.5,"v":30},{"s":"g","h":24,"v":36},{"s":"g","h":25.5,"v":30},{"s":"g","h":27,"v":28},{"s":"g","h":28.5,"v":30},{"s":"g","h":30,"v":32},{"s":"g","h":31.5,"v":35},{"s":"g","h":33,"v":45},{"s":"g","h":34.5,"v":40},{"s":"g","h":36,"v":38},{"s":"g","h":37.5,"v":42},{"s":"g","h":39.1,"v":45},{"s":"g","h":39.2,"v":1529},{"s":"g","h":39.3,"v":50},{"s":"g","h":40.4,"v":60},{"s":"g","h":40.5,"v":334},{"s":"g","h":40.6,"v":55},{"s":"g","h":42,"v":40},{"s":"g","h":43.5,"v":36},{"s":"g","h":45,"v":34},{"s":"g","h":46.5,"v":30},{"s":"g","h":48.3,"v":35},{"s":"g","h":48.4,"v":630},{"s":"g","h":48.5,"v":40},{"s":"g","h":49.9,"v":45},{"s":"g","h":50.1,"v":900},{"s":"g","h":50.5,"v":950},{"s":"g","h":50.9,"v":920},{"s":"g","h":51.05,"v":650},{"s":"g","h":51.15,"v":930},{"s":"g","h":52,"v":960},{"s":"g","h":52.15,"v":50},{"s":"g","h":53.5,"v":40},{"s":"g","h":55,"v":45},{"s":"g","h":56.5,"v":50},{"s":"g","h":56.96,"v":55},
{"s":"o","h":9.08,"v":50},{"s":"o","h":10,"v":70},{"s":"o","h":11,"v":45},{"s":"o","h":12,"v":85},{"s":"o","h":13,"v":55},{"s":"o","h":14,"v":60},{"s":"o","h":15,"v":48},{"s":"o","h":16,"v":65},{"s":"o","h":17,"v":42},{"s":"o","h":18,"v":50},{"s":"o","h":19,"v":40},{"s":"o","h":20,"v":45},{"s":"o","h":21,"v":38},{"s":"o","h":22,"v":42},{"s":"o","h":23,"v":35},{"s":"o","h":24,"v":44},{"s":"o","h":25,"v":36},{"s":"o","h":26,"v":40},{"s":"o","h":27,"v":34},{"s":"o","h":28,"v":38},{"s":"o","h":29,"v":33},{"s":"o","h":30,"v":40},{"s":"o","h":31,"v":36},{"s":"o","h":32,"v":42},{"s":"o","h":33,"v":55},{"s":"o","h":34,"v":60},{"s":"o","h":35,"v":50},{"s":"o","h":36,"v":48},{"s":"o","h":37,"v":52},{"s":"o","h":38,"v":46},{"s":"o","h":39.1,"v":55},{"s":"o","h":39.2,"v":497},{"s":"o","h":39.3,"v":60},{"s":"o","h":40,"v":58},{"s":"o","h":40.4,"v":70},{"s":"o","h":40.5,"v":200},{"s":"o","h":40.6,"v":55},{"s":"o","h":41,"v":50},{"s":"o","h":42,"v":45},{"s":"o","h":43,"v":42},{"s":"o","h":44,"v":40},{"s":"o","h":45,"v":38},{"s":"o","h":46,"v":36},{"s":"o","h":47,"v":34},{"s":"o","h":48.3,"v":40},{"s":"o","h":48.4,"v":497},{"s":"o","h":48.5,"v":42},{"s":"o","h":49,"v":38},{"s":"o","h":49.9,"v":40},{"s":"o","h":50.1,"v":950},{"s":"o","h":50.5,"v":1020},{"s":"o","h":50.9,"v":980},{"s":"o","h":51.05,"v":700},{"s":"o","h":51.15,"v":990},{"s":"o","h":51.5,"v":1040},{"s":"o","h":52,"v":1000},{"s":"o","h":52.15,"v":45},{"s":"o","h":53,"v":40},{"s":"o","h":54,"v":38},{"s":"o","h":55,"v":36},{"s":"o","h":56,"v":40},{"s":"o","h":56.96,"v":38},
{"s":"y","h":9.08,"v":30},{"s":"y","h":10.2,"v":40},{"s":"y","h":10.3,"v":90},{"s":"y","h":10.4,"v":40},{"s":"y","h":11,"v":40},{"s":"y","h":12.5,"v":45},{"s":"y","h":12.6,"v":120},{"s":"y","h":12.7,"v":45},{"s":"y","h":14.4,"v":45},{"s":"y","h":14.5,"v":100},{"s":"y","h":14.6,"v":40},{"s":"y","h":16.1,"v":50},{"s":"y","h":16.2,"v":140},{"s":"y","h":16.3,"v":45},{"s":"y","h":17.4,"v":40},{"s":"y","h":17.5,"v":80},{"s":"y","h":17.6,"v":35},{"s":"y","h":19.5,"v":40},{"s":"y","h":21,"v":30},{"s":"y","h":22.5,"v":35},{"s":"y","h":24,"v":30},{"s":"y","h":25.5,"v":40},{"s":"y","h":27,"v":28},{"s":"y","h":28.5,"v":38},{"s":"y","h":30,"v":30},{"s":"y","h":31.5,"v":35},{"s":"y","h":33.6,"v":50},{"s":"y","h":33.7,"v":334},{"s":"y","h":33.8,"v":60},{"s":"y","h":34.9,"v":45},{"s":"y","h":35,"v":110},{"s":"y","h":35.1,"v":50},{"s":"y","h":37,"v":40},{"s":"y","h":38.5,"v":45},{"s":"y","h":40,"v":50},{"s":"y","h":42,"v":45},{"s":"y","h":43.6,"v":45},{"s":"y","h":43.7,"v":90},{"s":"y","h":43.8,"v":40},{"s":"y","h":46,"v":35},{"s":"y","h":48,"v":38},{"s":"y","h":49.9,"v":40},{"s":"y","h":50.1,"v":1000},{"s":"y","h":50.5,"v":1050},{"s":"y","h":50.9,"v":1010},{"s":"y","h":51.05,"v":720},{"s":"y","h":51.15,"v":1020},{"s":"y","h":51.7,"v":1060},{"s":"y","h":51.9,"v":1214},{"s":"y","h":52.05,"v":1000},{"s":"y","h":52.15,"v":45},{"s":"y","h":54,"v":40},{"s":"y","h":56,"v":50},{"s":"y","h":56.96,"v":60},
{"s":"a","h":9.08,"v":20},{"s":"a","h":9.5,"v":35},{"s":"a","h":10,"v":25},{"s":"a","h":10.5,"v":40},{"s":"a","h":11,"v":22},{"s":"a","h":11.5,"v":30},{"s":"a","h":12,"v":45},{"s":"a","h":12.5,"v":28},{"s":"a","h":13,"v":38},{"s":"a","h":13.5,"v":24},{"s":"a","h":14,"v":33},{"s":"a","h":14.5,"v":60},{"s":"a","h":15,"v":27},{"s":"a","h":15.5,"v":36},{"s":"a","h":16,"v":30},{"s":"a","h":16.2,"v":70},{"s":"a","h":16.5,"v":32},{"s":"a","h":17,"v":40},{"s":"a","h":17.5,"v":26},{"s":"a","h":18,"v":35},{"s":"a","h":18.5,"v":28},{"s":"a","h":19,"v":30},{"s":"a","h":19.5,"v":22},{"s":"a","h":20,"v":29},{"s":"a","h":20.5,"v":24},{"s":"a","h":21,"v":31},{"s":"a","h":21.5,"v":20},{"s":"a","h":22,"v":27},{"s":"a","h":22.5,"v":23},{"s":"a","h":23,"v":30},{"s":"a","h":23.5,"v":25},{"s":"a","h":24,"v":28},{"s":"a","h":24.4,"v":80},{"s":"a","h":24.7,"v":30},{"s":"a","h":25,"v":22},{"s":"a","h":25.5,"v":28},{"s":"a","h":26,"v":20},{"s":"a","h":26.5,"v":26},{"s":"a","h":27,"v":22},{"s":"a","h":27.5,"v":25},{"s":"a","h":28,"v":21},{"s":"a","h":28.5,"v":27},{"s":"a","h":29,"v":23},{"s":"a","h":29.5,"v":26},{"s":"a","h":30,"v":22},{"s":"a","h":30.5,"v":28},{"s":"a","h":31,"v":24},{"s":"a","h":31.5,"v":30},{"s":"a","h":32,"v":26},{"s":"a","h":32.5,"v":35},{"s":"a","h":33,"v":40},{"s":"a","h":33.5,"v":32},{"s":"a","h":34,"v":45},{"s":"a","h":34.5,"v":30},{"s":"a","h":35,"v":38},{"s":"a","h":35.5,"v":28},{"s":"a","h":36,"v":33},{"s":"a","h":36.5,"v":30},{"s":"a","h":37,"v":36},{"s":"a","h":37.4,"v":60},{"s":"a","h":37.7,"v":30},{"s":"a","h":38,"v":34},{"s":"a","h":38.5,"v":28},{"s":"a","h":39,"v":40},{"s":"a","h":39.2,"v":120},{"s":"a","h":39.4,"v":35},{"s":"a","h":40,"v":32},{"s":"a","h":40.5,"v":90},{"s":"a","h":41,"v":38},{"s":"a","h":41.3,"v":100},{"s":"a","h":41.5,"v":30},{"s":"a","h":42,"v":28},{"s":"a","h":42.5,"v":33},{"s":"a","h":43,"v":26},{"s":"a","h":43.5,"v":30},{"s":"a","h":44,"v":24},{"s":"a","h":44.5,"v":28},{"s":"a","h":45,"v":25},{"s":"a","h":45.5,"v":30},{"s":"a","h":46,"v":26},{"s":"a","h":46.5,"v":40},{"s":"a","h":46.7,"v":60},{"s":"a","h":46.8,"v":315},{"s":"a","h":46.9,"v":60},{"s":"a","h":47,"v":35},{"s":"a","h":47.5,"v":25},{"s":"a","h":48,"v":28},{"s":"a","h":48.4,"v":200},{"s":"a","h":48.6,"v":30},{"s":"a","h":49,"v":26},{"s":"a","h":49.5,"v":30},{"s":"a","h":49.9,"v":35},{"s":"a","h":50.1,"v":860},{"s":"a","h":50.5,"v":870},{"s":"a","h":50.9,"v":850},{"s":"a","h":51.05,"v":500},{"s":"a","h":51.15,"v":850},{"s":"a","h":51.5,"v":860},{"s":"a","h":52,"v":850},{"s":"a","h":52.15,"v":40},{"s":"a","h":52.5,"v":28},{"s":"a","h":53,"v":25},{"s":"a","h":53.5,"v":30},{"s":"a","h":54,"v":24},{"s":"a","h":54.5,"v":28},{"s":"a","h":55,"v":22},{"s":"a","h":55.5,"v":27},{"s":"a","h":56,"v":25},{"s":"a","h":56.5,"v":30},{"s":"a","h":56.96,"v":26}
]
},
"hconcat":[
{
 "width":537,"height":155,
 "data":{"name":"cpu"},
 "title":{"text":"CPU（核）","dx":-21},
 "encoding":{
  "x":{"field":"h","type":"quantitative","scale":{"domain":[9.08,56.97],"nice":false,"zero":false},
   "axis":{"values":[16,24,32,40,48,56],"grid":true,"tickSize":4,"labelPadding":4,
    "labelExpr":"datum.value==16?'04/21 16:00':datum.value==24?'04/22 00:00':datum.value==32?'04/22 08:00':datum.value==40?'04/22 16:00':datum.value==48?'04/23 00:00':'04/23 08:'",
    "labelAlign":{"condition":{"test":"datum.value==56","value":"left"},"value":"center"},
    "labelOffset":{"condition":{"test":"datum.value==56","value":-32},"value":0}}},
  "y":{"field":"v","type":"quantitative","stack":null,"scale":{"domain":[0,41.7],"nice":false},
   "axis":{"values":[0,10,20,30,40],"grid":true,"tickSize":6,"labelPadding":4,"labelExpr":"format(datum.value,'.1f')+'%'"}},
  "color":{"field":"s","type":"nominal","legend":null,"scale":{"domain":["b","p","g","o","y","r"],"range":["#5b8ff0","#a77ee0","#73bf69","#ef843c","#eab839","#b8281e"]}}
 },
 "layer":[
  {"mark":{"type":"area","fillOpacity":0.13,"interpolate":"linear"}},
  {"mark":{"type":"line","strokeWidth":1,"interpolate":"linear"}}
 ]
},
{
 "bounds":"flush","spacing":101,
 "resolve":{"scale":{"color":"independent"}},
 "hconcat":[
 {
  "width":525,"height":155,
  "data":{"name":"mem"},
  "title":{"text":"内存","dx":-24,"offset":17},
  "encoding":{
   "x":{"field":"h","type":"quantitative","scale":{"domain":[9.08,56.97],"nice":false,"zero":false},
    "axis":{"values":[16,24,32,40,48,56],"grid":true,"tickSize":4,"labelPadding":4,
     "labelExpr":"datum.value==16?'04/21 16:00':datum.value==24?'04/22 00:00':datum.value==32?'04/22 08:00':datum.value==40?'04/22 16:00':datum.value==48?'04/23 00:00':'04/23 08:'",
     "labelAlign":{"condition":{"test":"datum.value==56","value":"left"},"value":"center"},
     "labelOffset":{"condition":{"test":"datum.value==56","value":-32},"value":0}}},
   "y":{"field":"v","type":"quantitative","stack":null,"scale":{"domain":[0,1500],"nice":false},
    "axis":{"values":[0,500,1000,1500],"grid":true,"tickSize":6,"labelPadding":4,"labelExpr":"datum.value==0?'0 B':datum.value==500?'477 MiB':datum.value==1000?'954 MiB':'1.40 GiB'"}},
   "color":{"field":"s","type":"nominal","legend":null,"scale":{"domain":["l","g","b","p","y","r"],"range":["#eab839","#73bf69","#5794f2","#b877d9","#fade2a","#c8252c"]}}
  },
  "layer":[
   {"mark":{"type":"area","fillOpacity":0.15,"interpolate":"linear"}},
   {"mark":{"type":"line","strokeWidth":1,"interpolate":"linear"}}
  ]
 },
 {
  "width":511,"height":155,
  "data":{"name":"net"},
  "title":{"text":"网络","dx":-30},
  "encoding":{
   "x":{"field":"h","type":"quantitative","scale":{"domain":[9.08,56.97],"nice":false,"zero":false},
    "axis":{"values":[16,24,32,40,48,56],"grid":true,"tickSize":4,"labelPadding":4,
     "labelExpr":"datum.value==16?'04/21 16:00':datum.value==24?'04/22 00:00':datum.value==32?'04/22 08:00':datum.value==40?'04/22 16:00':datum.value==48?'04/23 00:00':'04/23 08:'",
     "labelAlign":{"condition":{"test":"datum.value==56","value":"left"},"value":"center"},
     "labelOffset":{"condition":{"test":"datum.value==56","value":-32},"value":0}}},
   "y":{"field":"v","type":"quantitative","stack":null,"scale":{"domain":[0,1681],"nice":false},
    "axis":{"values":[0,500,1000,1500],"grid":true,"tickSize":6,"labelPadding":4,"labelExpr":"datum.value==0?'0 B/s':datum.value==500?'488 KiB/s':datum.value==1000?'977 KiB/s':'1.43 MiB/s'"}},
   "color":{"field":"s","type":"nominal","legend":null,"scale":{"domain":["r","b","g","o","y","a"],"range":["#e24d42","#5794f2","#56a64b","#ff9830","#fade2a","#c9a6e6"]}}
  },
  "layer":[
   {"mark":{"type":"area","fillOpacity":0.2,"interpolate":"linear"}},
   {"mark":{"type":"line","strokeWidth":1,"interpolate":"linear"}}
  ]
 }
 ]
}
]
}
